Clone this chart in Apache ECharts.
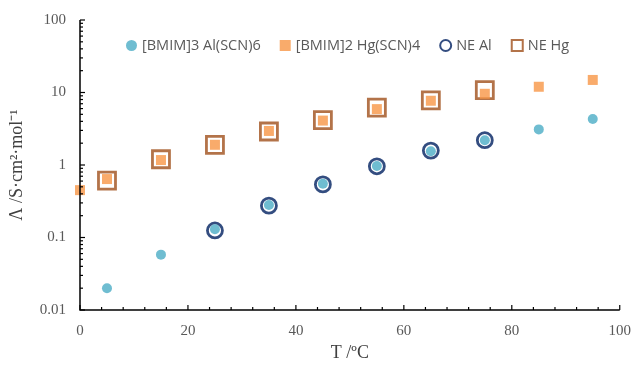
<!DOCTYPE html>
<html>
<head>
<meta charset="utf-8">
<script src="https://cdn.jsdelivr.net/npm/echarts@6/dist/echarts.min.js"></script>
<style>html,body{margin:0;padding:0;background:#fff}#c{width:634px;height:367px}</style>
</head>
<body>
<div id="c"></div>
<script>
var tAl = [5, 15, 25, 35, 45, 55, 65, 75, 85, 95];
var vAl = [0.020, 0.058, 0.13, 0.28, 0.55, 0.97, 1.55, 2.2, 3.1, 4.3];
var tHg = [0, 5, 15, 25, 35, 45, 55, 65, 75, 85, 95];
var vHg = [0.45, 0.64, 1.17, 1.9, 2.95, 4.1, 5.9, 7.7, 9.6, 12.0, 14.9];
var tNeAl = [25, 35, 45, 55, 65, 75];
var vNeAl = [0.125, 0.275, 0.54, 0.96, 1.58, 2.2];
var tNeHg = [5, 15, 25, 35, 45, 55, 65, 75];
var vNeHg = [0.61, 1.2, 1.9, 2.9, 4.15, 6.2, 7.8, 10.8];
var names = ['[BMIM]3 Al(SCN)6', '[BMIM]2 Hg(SCN)4', 'NE Al', 'NE Hg'];
var xRange = [0, 100];
var yRange = [0.01, 100];
var xMajor = [0, 20, 40, 60, 80, 100];
var yMajor = [0.01, 0.1, 1, 10, 100];

function pairs(x, y) { return x.map(function (v, i) { return [v, y[i]]; }); }

var chart = echarts.init(document.getElementById('c'), null, { renderer: 'canvas' });
var lbl = { margin: 14, fontFamily: 'Liberation Serif', fontSize: 15, color: '#595959' };
chart.setOption({
  animation: false,
  grid: { left: 80, right: 14, top: 20, bottom: 57 },
  legend: {
    top: 33, left: 121,
    itemWidth: 11, itemHeight: 11, itemGap: 19,
    textStyle: { fontFamily: 'Open Sans', fontSize: 14.5, color: '#595959' },
    data: names
  },
  xAxis: {
    type: 'value', min: xRange[0], max: xRange[1], interval: 20,
    name: 'T /ºC', nameLocation: 'middle', nameGap: 32,
    nameTextStyle: { fontFamily: 'Liberation Serif', fontSize: 18, color: '#404040' },
    axisLine: { show: false }, axisTick: { show: false },
    axisLabel: lbl, splitLine: { show: false }
  },
  yAxis: {
    type: 'log', logBase: 10, min: yRange[0], max: yRange[1],
    name: 'Λ /S·cm²·mol⁻¹', nameLocation: 'middle', nameGap: 54,
    nameTextStyle: { fontFamily: 'Liberation Serif', fontSize: 18, color: '#404040' },
    axisLine: { show: false }, axisTick: { show: false },
    axisLabel: lbl, splitLine: { show: false }
  },
  series: [
    { name: names[0], type: 'scatter', symbol: 'circle', symbolSize: 10, z: 3,
      itemStyle: { color: '#4BACC6' }, data: pairs(tAl, vAl) },
    { name: names[1], type: 'scatter', symbol: 'rect', symbolSize: 10, z: 3,
      itemStyle: { color: '#F79646' }, data: pairs(tHg, vHg) },
    { name: names[2], type: 'scatter', symbol: 'circle', symbolSize: 15, z: 2,
      itemStyle: { color: 'rgba(255,255,255,0)', borderColor: '#002060', borderWidth: 2.8 }, data: pairs(tNeAl, vNeAl) },
    { name: names[3], type: 'scatter', symbol: 'rect', symbolSize: 17, z: 2,
      itemStyle: { color: 'rgba(255,255,255,0)', borderColor: '#A0501C', borderWidth: 2.8 }, data: pairs(tNeHg, vNeHg) }
  ]
});

// Axis frame and ticks, positioned through the chart's own scales
function px(x, y) { return chart.convertToPixel({ gridIndex: 0 }, [x, y]); }
var origin = px(xRange[0], yRange[0]);
var topLeft = px(xRange[0], yRange[1]);
var botRight = px(xRange[1], yRange[0]);
var els = [];
var stroke = { stroke: '#000', lineWidth: 1.5 };
els.push({ type: 'polyline', silent: true, z: 10,
  shape: { points: [topLeft, origin, botRight] }, style: stroke });
var tickStyle = { stroke: '#000', lineWidth: 1.2 };
for (var xv = xRange[0]; xv <= xRange[1] + 1e-9; xv += 4) {
  var p = px(xv, yRange[0]);
  var len = (xMajor.indexOf(Math.round(xv)) >= 0) ? 5 : 3;
  els.push({ type: 'line', silent: true, z: 10,
    shape: { x1: p[0], y1: p[1], x2: p[0], y2: p[1] - len }, style: tickStyle });
}
yMajor.forEach(function (d, i) {
  var pM = px(xRange[0], d);
  els.push({ type: 'line', silent: true, z: 10,
    shape: { x1: pM[0], y1: pM[1], x2: pM[0] + 5, y2: pM[1] }, style: tickStyle });
  if (i < yMajor.length - 1) {
    for (var k = 2; k <= 9; k++) {
      var pm = px(xRange[0], d * k);
      els.push({ type: 'line', silent: true, z: 10,
        shape: { x1: pm[0], y1: pm[1], x2: pm[0] + 3, y2: pm[1] }, style: tickStyle });
    }
  }
});
chart.setOption({ graphic: { elements: els } });
</script>
</body>
</html>
